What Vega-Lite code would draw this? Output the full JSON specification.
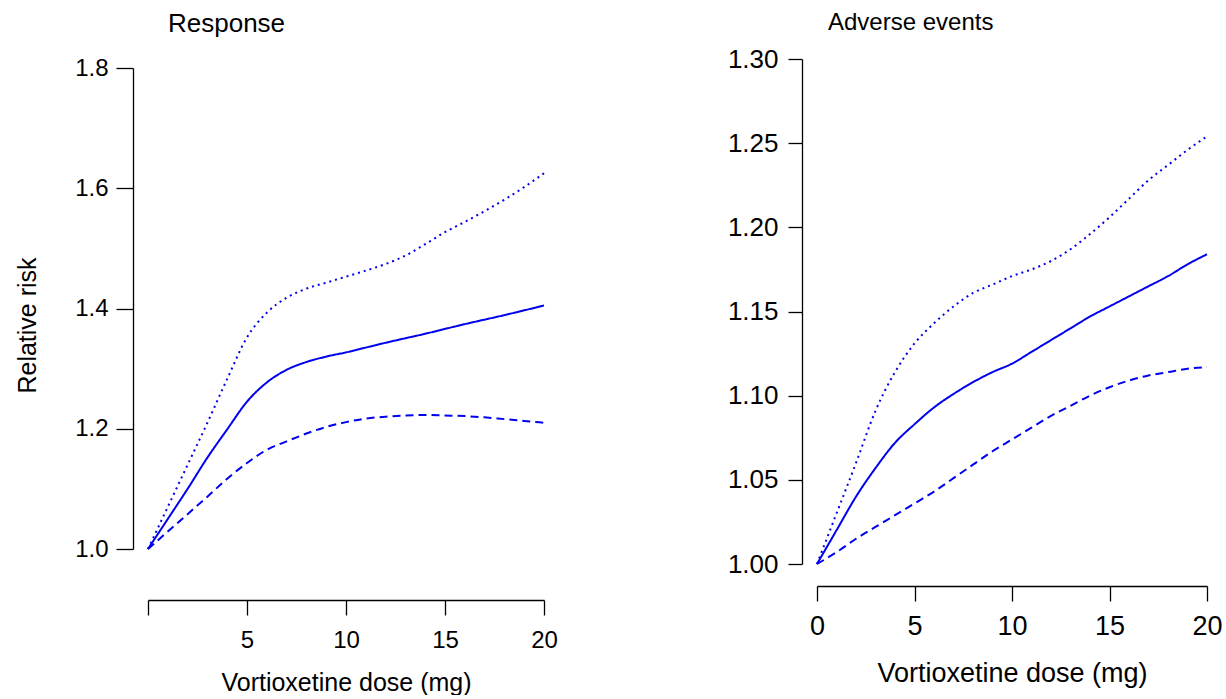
{
  "$schema": "https://vega.github.io/schema/vega-lite/v6.json",
  "background": "white",
  "padding": {"left": 15, "top": 11, "right": 0, "bottom": 0},
  "config": {
    "view": {"stroke": null},
    "font": "Liberation Sans",
    "axis": {"grid": false, "domainColor": "black", "tickColor": "black", "labelColor": "black", "titleColor": "black", "titleFontWeight": "normal", "domainWidth": 1.3, "tickWidth": 1.3, "labelFlush": false, "labelOverlap": false},
    "title": {"fontWeight": "normal", "color": "black", "anchor": "start", "frame": "group"}
  },
  "datasets": {
    "response": [
      {"dose": 0, "series": "estimate", "rr": 1.0},
      {"dose": 1, "series": "estimate", "rr": 1.05},
      {"dose": 2, "series": "estimate", "rr": 1.1},
      {"dose": 3, "series": "estimate", "rr": 1.152},
      {"dose": 4, "series": "estimate", "rr": 1.199},
      {"dose": 5, "series": "estimate", "rr": 1.245},
      {"dose": 6, "series": "estimate", "rr": 1.277},
      {"dose": 7, "series": "estimate", "rr": 1.298},
      {"dose": 8, "series": "estimate", "rr": 1.311},
      {"dose": 9, "series": "estimate", "rr": 1.32},
      {"dose": 10, "series": "estimate", "rr": 1.327},
      {"dose": 11, "series": "estimate", "rr": 1.335},
      {"dose": 12, "series": "estimate", "rr": 1.343},
      {"dose": 14, "series": "estimate", "rr": 1.358},
      {"dose": 16, "series": "estimate", "rr": 1.374},
      {"dose": 18, "series": "estimate", "rr": 1.389},
      {"dose": 20, "series": "estimate", "rr": 1.405},
      {"dose": 0, "series": "upper", "rr": 1.0},
      {"dose": 1, "series": "upper", "rr": 1.07},
      {"dose": 2, "series": "upper", "rr": 1.14},
      {"dose": 3, "series": "upper", "rr": 1.21},
      {"dose": 4, "series": "upper", "rr": 1.283},
      {"dose": 5, "series": "upper", "rr": 1.352},
      {"dose": 6, "series": "upper", "rr": 1.393},
      {"dose": 7, "series": "upper", "rr": 1.418},
      {"dose": 8, "series": "upper", "rr": 1.433},
      {"dose": 9, "series": "upper", "rr": 1.443},
      {"dose": 10, "series": "upper", "rr": 1.453},
      {"dose": 11, "series": "upper", "rr": 1.463},
      {"dose": 12, "series": "upper", "rr": 1.474},
      {"dose": 13, "series": "upper", "rr": 1.488},
      {"dose": 14, "series": "upper", "rr": 1.507},
      {"dose": 15, "series": "upper", "rr": 1.527},
      {"dose": 16, "series": "upper", "rr": 1.544},
      {"dose": 17, "series": "upper", "rr": 1.562},
      {"dose": 18, "series": "upper", "rr": 1.581},
      {"dose": 19, "series": "upper", "rr": 1.602},
      {"dose": 20, "series": "upper", "rr": 1.625},
      {"dose": 0, "series": "lower", "rr": 1.0},
      {"dose": 1, "series": "lower", "rr": 1.029},
      {"dose": 2, "series": "lower", "rr": 1.058},
      {"dose": 3, "series": "lower", "rr": 1.087},
      {"dose": 4, "series": "lower", "rr": 1.117},
      {"dose": 5, "series": "lower", "rr": 1.143},
      {"dose": 6, "series": "lower", "rr": 1.165},
      {"dose": 7, "series": "lower", "rr": 1.179},
      {"dose": 8, "series": "lower", "rr": 1.192},
      {"dose": 9, "series": "lower", "rr": 1.203},
      {"dose": 10, "series": "lower", "rr": 1.211},
      {"dose": 11, "series": "lower", "rr": 1.217},
      {"dose": 12, "series": "lower", "rr": 1.22},
      {"dose": 13, "series": "lower", "rr": 1.222},
      {"dose": 14, "series": "lower", "rr": 1.223},
      {"dose": 15, "series": "lower", "rr": 1.222},
      {"dose": 16, "series": "lower", "rr": 1.221},
      {"dose": 17, "series": "lower", "rr": 1.219},
      {"dose": 18, "series": "lower", "rr": 1.216},
      {"dose": 19, "series": "lower", "rr": 1.213},
      {"dose": 20, "series": "lower", "rr": 1.21}
    ],
    "adverse": [
      {"dose": 0, "series": "estimate", "rr": 1.0},
      {"dose": 1, "series": "estimate", "rr": 1.02},
      {"dose": 2, "series": "estimate", "rr": 1.04},
      {"dose": 3, "series": "estimate", "rr": 1.057},
      {"dose": 4, "series": "estimate", "rr": 1.072},
      {"dose": 5, "series": "estimate", "rr": 1.083},
      {"dose": 6, "series": "estimate", "rr": 1.093},
      {"dose": 7, "series": "estimate", "rr": 1.101},
      {"dose": 8, "series": "estimate", "rr": 1.108},
      {"dose": 9, "series": "estimate", "rr": 1.114},
      {"dose": 10, "series": "estimate", "rr": 1.119},
      {"dose": 11, "series": "estimate", "rr": 1.126},
      {"dose": 12, "series": "estimate", "rr": 1.133},
      {"dose": 13, "series": "estimate", "rr": 1.14},
      {"dose": 14, "series": "estimate", "rr": 1.147},
      {"dose": 15, "series": "estimate", "rr": 1.153},
      {"dose": 16, "series": "estimate", "rr": 1.159},
      {"dose": 17, "series": "estimate", "rr": 1.165},
      {"dose": 18, "series": "estimate", "rr": 1.171},
      {"dose": 19, "series": "estimate", "rr": 1.178},
      {"dose": 20, "series": "estimate", "rr": 1.184},
      {"dose": 0, "series": "upper", "rr": 1.0},
      {"dose": 1, "series": "upper", "rr": 1.03},
      {"dose": 2, "series": "upper", "rr": 1.06},
      {"dose": 3, "series": "upper", "rr": 1.091},
      {"dose": 4, "series": "upper", "rr": 1.114},
      {"dose": 5, "series": "upper", "rr": 1.131},
      {"dose": 6, "series": "upper", "rr": 1.143},
      {"dose": 7, "series": "upper", "rr": 1.153},
      {"dose": 8, "series": "upper", "rr": 1.161},
      {"dose": 9, "series": "upper", "rr": 1.166},
      {"dose": 10, "series": "upper", "rr": 1.171},
      {"dose": 11, "series": "upper", "rr": 1.175},
      {"dose": 12, "series": "upper", "rr": 1.18},
      {"dose": 13, "series": "upper", "rr": 1.187},
      {"dose": 14, "series": "upper", "rr": 1.196},
      {"dose": 15, "series": "upper", "rr": 1.206},
      {"dose": 16, "series": "upper", "rr": 1.217},
      {"dose": 17, "series": "upper", "rr": 1.228},
      {"dose": 18, "series": "upper", "rr": 1.237},
      {"dose": 19, "series": "upper", "rr": 1.246},
      {"dose": 20, "series": "upper", "rr": 1.254},
      {"dose": 0, "series": "lower", "rr": 1.0},
      {"dose": 1, "series": "lower", "rr": 1.007},
      {"dose": 2, "series": "lower", "rr": 1.015},
      {"dose": 3, "series": "lower", "rr": 1.022},
      {"dose": 4, "series": "lower", "rr": 1.029},
      {"dose": 5, "series": "lower", "rr": 1.036},
      {"dose": 6, "series": "lower", "rr": 1.043},
      {"dose": 7, "series": "lower", "rr": 1.051},
      {"dose": 8, "series": "lower", "rr": 1.059},
      {"dose": 9, "series": "lower", "rr": 1.067},
      {"dose": 10, "series": "lower", "rr": 1.074},
      {"dose": 11, "series": "lower", "rr": 1.081},
      {"dose": 12, "series": "lower", "rr": 1.088},
      {"dose": 13, "series": "lower", "rr": 1.094},
      {"dose": 14, "series": "lower", "rr": 1.1},
      {"dose": 15, "series": "lower", "rr": 1.105},
      {"dose": 16, "series": "lower", "rr": 1.109},
      {"dose": 17, "series": "lower", "rr": 1.112},
      {"dose": 18, "series": "lower", "rr": 1.114},
      {"dose": 19, "series": "lower", "rr": 1.116},
      {"dose": 20, "series": "lower", "rr": 1.117}
    ]
  },
  "spacing": 169,
  "hconcat": [
    {
      "width": 396,
      "height": 490,
      "title": {"text": "Response", "fontSize": 26, "dx": 20, "offset": 19},
      "data": {"name": "response"},
      "mark": {"type": "line", "color": "#0000ee", "strokeWidth": 2, "interpolate": "monotone"},
      "encoding": {
        "x": {"field": "dose", "type": "quantitative", "scale": {"domain": [0, 20], "nice": false, "zero": false},
          "axis": {"values": [0, 5, 10, 15, 20], "labelExpr": "datum.value == 0 ? '' : datum.label", "offset": 51, "tickSize": 15, "labelFontSize": 24, "labelPadding": 13, "title": "Vortioxetine dose (mg)", "titleFontSize": 25, "titlePadding": 18}},
        "y": {"field": "rr", "type": "quantitative", "scale": {"domain": [1.0, 1.8], "nice": false, "zero": false, "range": [490, 9]},
          "axis": {"values": [1.0, 1.2, 1.4, 1.6, 1.8], "format": ".1f", "offset": 15, "tickSize": 17, "labelFontSize": 24, "labelPadding": 8, "title": "Relative risk", "titleFontSize": 25, "titlePadding": 34, "titleY": 266}},
        "strokeDash": {"field": "series", "type": "nominal", "scale": {"domain": ["upper", "estimate", "lower"], "range": [[2, 4], [1, 0], [8, 5]]}, "legend": null}
      }
    },
    {
      "width": 390,
      "height": 505,
      "title": {"text": "Adverse events", "fontSize": 24, "dx": 11, "offset": 11},
      "data": {"name": "adverse"},
      "mark": {"type": "line", "color": "#0000ee", "strokeWidth": 2, "interpolate": "monotone"},
      "encoding": {
        "x": {"field": "dose", "type": "quantitative", "scale": {"domain": [0, 20], "nice": false, "zero": false},
          "axis": {"values": [0, 5, 10, 15, 20], "offset": 22, "tickSize": 15, "labelFontSize": 27, "labelPadding": 12, "title": "Vortioxetine dose (mg)", "titleFontSize": 27, "titlePadding": 21}},
        "y": {"field": "rr", "type": "quantitative", "scale": {"domain": [1.0, 1.3], "nice": false, "zero": false},
          "axis": {"values": [1.0, 1.05, 1.1, 1.15, 1.2, 1.25, 1.3], "format": ".2f", "offset": 15, "tickSize": 14, "labelFontSize": 26, "labelPadding": 10, "title": null}},
        "strokeDash": {"field": "series", "type": "nominal", "scale": {"domain": ["upper", "estimate", "lower"], "range": [[2, 4], [1, 0], [8, 5]]}, "legend": null}
      }
    }
  ]
}
